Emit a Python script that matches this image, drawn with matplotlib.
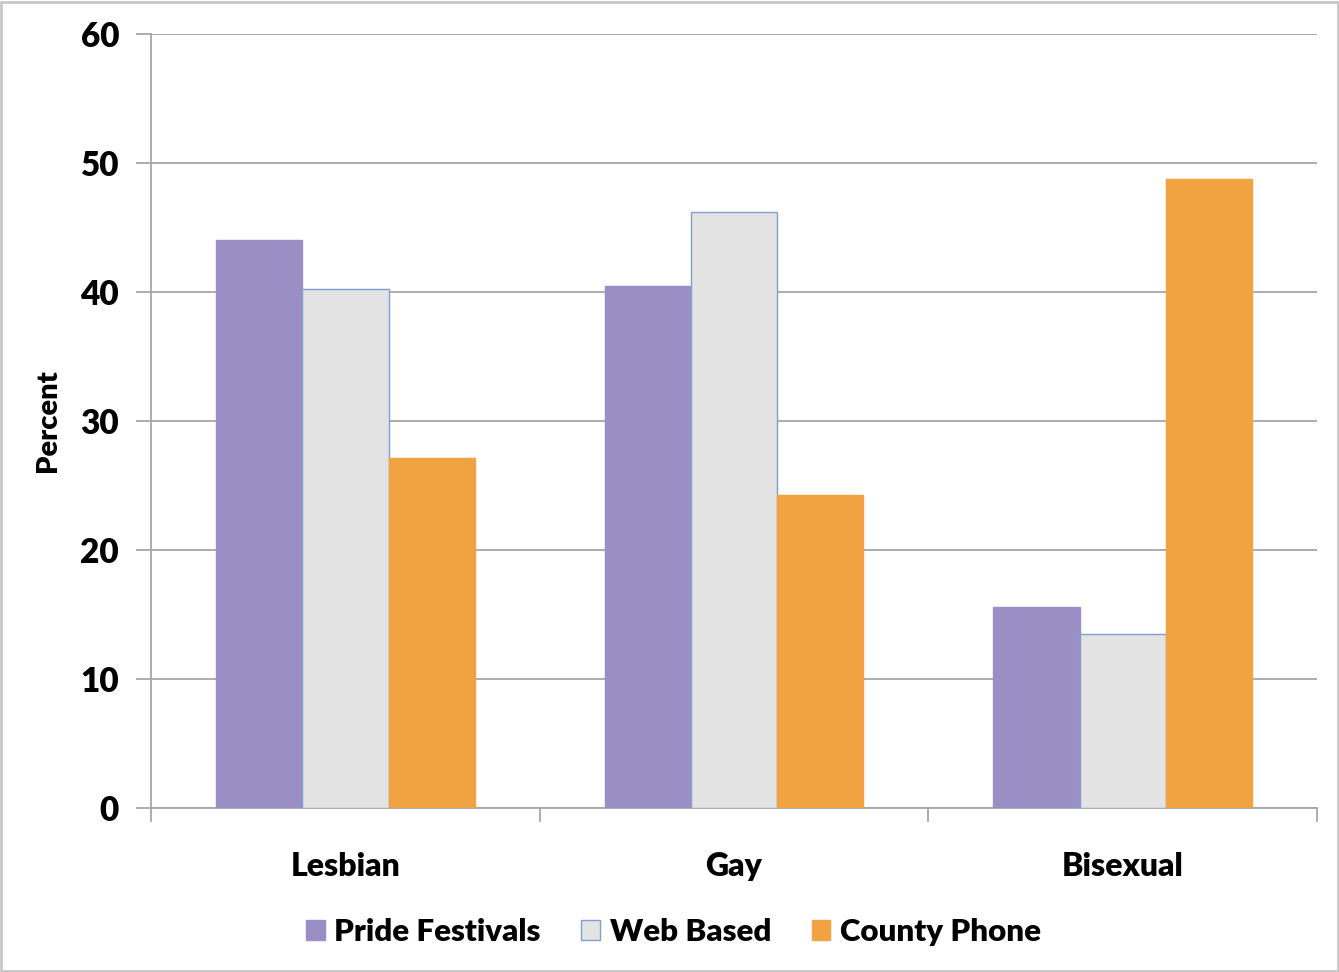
import matplotlib.pyplot as plt
import numpy as np
from matplotlib.patches import Rectangle

categories = ['Lesbian', 'Gay', 'Bisexual']
series_names = ['Pride Festivals', 'Web Based', 'County Phone']
pride = [44.0, 40.5, 15.6]
web = [40.2, 46.2, 13.5]
county = [27.1, 24.3, 48.8]
y_ticks = [0, 10, 20, 30, 40, 50, 60]

colors = ['#9a8fc4', '#e3e3e3', '#f0a340']
edges = ['#9a8fc4', '#7f9fd0', '#f0a340']
grid_col = '#a6a6a6'

plt.rcParams['font.family'] = ['Lato', 'DejaVu Sans']

fig = plt.figure(figsize=(13.39, 9.72), dpi=100)
fig.patches.append(Rectangle((0.001, 0.001), 0.998, 0.997, transform=fig.transFigure,
                             fill=False, edgecolor='#c8c8c8', linewidth=2))
ax = fig.add_axes([0.1128, 0.1687, 0.8708, 0.7963])

x = np.arange(len(categories))
w = 0.222
for i, vals in enumerate([pride, web, county]):
    ax.bar(x + (i - 1) * w, vals, width=w, color=colors[i], edgecolor=edges[i],
           linewidth=1.0, label=series_names[i], zorder=3)

ax.set_xlim(-0.5, 2.5)
ax.set_ylim(0, 60)
ax.set_yticks(y_ticks)
ax.set_yticklabels([str(t) for t in y_ticks], fontsize=24, fontweight='heavy')
ax.yaxis.grid(True, color=grid_col, linewidth=1.3, zorder=0)
ax.tick_params(axis='y', length=11, color=grid_col, width=1.3, pad=12)

# category ticks sit between groups, labels centered under each group
ax.set_xticks([-0.5, 0.5, 1.5, 2.5])
ax.set_xticklabels([])
ax.set_xticks(x, minor=True)
ax.set_xticklabels(categories, minor=True, fontsize=23, fontweight='heavy')
ax.tick_params(axis='x', which='major', length=10, color=grid_col, width=1.3)
ax.tick_params(axis='x', which='minor', length=0, pad=32)

for s in ['top', 'right']:
    ax.spines[s].set_visible(False)
ax.spines['left'].set_color(grid_col)
ax.spines['bottom'].set_color(grid_col)
ax.spines['left'].set_linewidth(1.3)
ax.spines['bottom'].set_linewidth(1.3)

ax.set_ylabel('Percent', fontsize=21, fontweight='heavy', labelpad=14)

fig.legend(loc='center', bbox_to_anchor=(0.503, 0.041), ncol=3, frameon=False,
           prop={'size': 22.5, 'weight': 'heavy'}, handlelength=0.6, handleheight=0.6,
           handletextpad=0.3, columnspacing=1.3)

fig.savefig('out.png', dpi=100)
